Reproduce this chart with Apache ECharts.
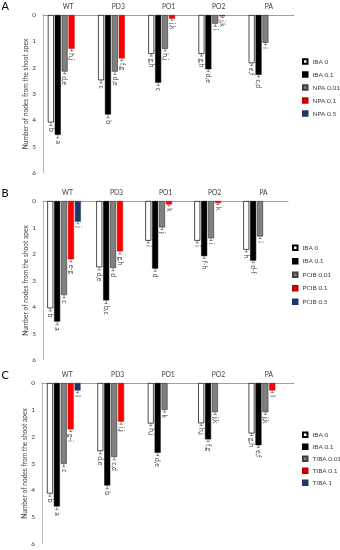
<!DOCTYPE html>
<html><head><meta charset="utf-8">
<script src="https://cdn.jsdelivr.net/npm/echarts@6/dist/echarts.min.js"></script>
<style>html,body{margin:0;padding:0;background:#fff}#c{width:340px;height:550px}</style>
</head><body><div id="c"></div>
<script>
// ---------- data ----------
const categories = ['WT', 'PD3', 'PO1', 'PO2', 'PA'];
const yTicks = [0, 1, 2, 3, 4, 5, 6];

// Panel A (NPA)
const namesA = ['IBA 0', 'IBA 0.1', 'NPA 0.01', 'NPA 0.1', 'NPA 0.5'];
const a_iba0 = [4.08, 2.48, 1.48, 1.48, 1.83];
const a_iba01 = [4.55, 3.78, 2.57, 2.06, 2.27];
const a_npa001 = [2.15, 2.15, 1.29, 0.33, 1.06];
const a_npa01 = [1.28, 1.65, 0.14, 0.05, null];
const a_npa05 = [null, null, null, null, null];
const a_iba0_err = [0.12, 0.1, 0.08, 0.08, 0.08];
const a_iba01_err = [0.12, 0.12, 0.1, 0.08, 0.08];
const a_npa001_err = [0.08, 0.1, 0.07, 0.1, 0.07];
const a_npa01_err = [0.08, 0.08, 0.06, 0.05, null];
const a_npa05_err = [null, null, null, null, null];
const a_iba0_lab = ['b', 'c', 'g,h', 'g,h', 'e,f'];
const a_iba01_lab = ['a', 'b', 'c', 'd,e', 'c,d'];
const a_npa001_lab = ['d,e', 'd,e', 'h,j', 'i', 'i'];
const a_npa01_lab = ['h,j', 'f,g', 'j,k', 'j,k', null];
const a_npa05_lab = [null, null, null, null, null];

// Panel B (PCIB)
const namesB = ['IBA 0', 'IBA 0.1', 'PCIB 0.01', 'PCIB 0.1', 'PCIB 0.5'];
const b_iba0 = [4.05, 2.5, 1.5, 1.5, 1.84];
const b_iba01 = [4.55, 3.75, 2.55, 2.08, 2.25];
const b_pcib001 = [3.55, 2.53, 1.0, 1.41, 1.34];
const b_pcib01 = [2.2, 1.9, 0.13, 0.08, null];
const b_pcib05 = [0.78, null, null, null, null];
const b_iba0_err = [0.1, 0.1, 0.08, 0.08, 0.08];
const b_iba01_err = [0.12, 0.12, 0.1, 0.08, 0.08];
const b_pcib001_err = [0.1, 0.1, 0.08, 0.08, 0.08];
const b_pcib01_err = [0.1, 0.1, 0.05, 0.05, null];
const b_pcib05_err = [0.08, null, null, null, null];
const b_iba0_lab = ['b', 'd,e', 'i', 'i', 'h'];
const b_iba01_lab = ['a', 'b,c', 'd', 'f-h', 'd-f'];
const b_pcib001_lab = ['c', 'd', 'j', 'i', 'i'];
const b_pcib01_lab = ['e-g', 'g,h', 'k', 'k', null];
const b_pcib05_lab = ['j', null, null, null, null];

// Panel C (TIBA)
const namesC = ['IBA 0', 'IBA 0.1', 'TIBA 0.01', 'TIBA 0.1', 'TIBA 1'];
const c_iba0 = [4.12, 2.54, 1.51, 1.5, 1.88];
const c_iba01 = [4.6, 3.82, 2.6, 2.1, 2.32];
const c_tiba001 = [3.02, 2.76, 1.0, 1.09, 1.09];
const c_tiba01 = [1.73, 1.44, null, null, 0.28];
const c_tiba1 = [0.28, null, null, null, null];
const c_iba0_err = [0.1, 0.1, 0.08, 0.08, 0.08];
const c_iba01_err = [0.12, 0.12, 0.1, 0.08, 0.08];
const c_tiba001_err = [0.1, 0.1, 0.08, 0.08, 0.08];
const c_tiba01_err = [0.08, 0.1, null, null, 0.08];
const c_tiba1_err = [0.08, null, null, null, null];
const c_iba0_lab = ['b', 'd,e', 'h,j', 'h,j', 'g,h'];
const c_iba01_lab = ['a', 'b', 'd,e', 'f,g', 'e,f'];
const c_tiba001_lab = ['c', 'c,d', 'k', 'j,k', 'j,k'];
const c_tiba01_lab = ['g-i', 'i,j', null, null, 'l'];
const c_tiba1_lab = ['l', null, null, null, null];

// ---------- style ----------
const FONT = 'Lato';
const TXT = '#404040';
const BAR_W = 6;
const BAR_GAP = 0.15;
const PITCH = BAR_W * (1 + BAR_GAP);
const styles = [
  {color: '#ffffff', borderColor: '#000000', borderWidth: 0.7},
  {color: '#000000', borderColor: '#000000', borderWidth: 0.5},
  {color: '#808080', borderColor: '#404040', borderWidth: 0.7},
  {color: '#ff0000', borderColor: '#c00000', borderWidth: 0.5},
  {color: '#1f3864', borderColor: '#1f3864', borderWidth: 0.5}
];

const panels = [
  {names: namesA, vals: [a_iba0, a_iba01, a_npa001, a_npa01, a_npa05],
   errs: [a_iba0_err, a_iba01_err, a_npa001_err, a_npa01_err, a_npa05_err],
   labs: [a_iba0_lab, a_iba01_lab, a_npa001_lab, a_npa01_lab, a_npa05_lab],
   grid: {left: 43, top: 15, width: 251, height: 158}, letter: 'A', ly: 6.5,
   legend: {left: 302, top: 58, itemGap: 6}},
  {names: namesB, vals: [b_iba0, b_iba01, b_pcib001, b_pcib01, b_pcib05],
   errs: [b_iba0_err, b_iba01_err, b_pcib001_err, b_pcib01_err, b_pcib05_err],
   labs: [b_iba0_lab, b_iba01_lab, b_pcib001_lab, b_pcib01_lab, b_pcib05_lab],
   grid: {left: 43, top: 201, width: 245, height: 159}, letter: 'B', ly: 193.3,
   legend: {left: 292, top: 244.3, itemGap: 6.5}},
  {names: namesC, vals: [c_iba0, c_iba01, c_tiba001, c_tiba01, c_tiba1],
   errs: [c_iba0_err, c_iba01_err, c_tiba001_err, c_tiba01_err, c_tiba1_err],
   labs: [c_iba0_lab, c_iba01_lab, c_tiba001_lab, c_tiba01_lab, c_tiba1_lab],
   grid: {left: 42, top: 383, width: 252, height: 161}, letter: 'C', ly: 375.3,
   legend: {left: 302, top: 431.3, itemGap: 5}}
];

const grids = [], xAxes = [], yAxes = [], series = [], legends = [], graphics = [];

panels.forEach((p, pi) => {
  grids.push(Object.assign({containLabel: false}, p.grid));
  xAxes.push({
    type: 'category', data: categories, gridIndex: pi, position: 'top',
    axisTick: {show: false},
    axisLine: {lineStyle: {color: '#868686', width: 0.8}},
    axisLabel: {fontSize: 6.7, color: TXT, fontFamily: FONT, margin: 5}
  });
  yAxes.push({
    type: 'value', gridIndex: pi, inverse: true,
    min: yTicks[0], max: yTicks[yTicks.length - 1], interval: 1,
    name: 'Number of nodes from the shoot apex', nameLocation: 'middle', nameGap: 14, nameRotate: 90,
    nameMoveOverlap: false,
    nameTextStyle: {fontSize: 6.6, color: TXT, fontFamily: FONT},
    axisLine: {show: true, lineStyle: {color: '#a6a6a6', width: 0.8}},
    axisTick: {show: false}, splitLine: {show: false},
    axisLabel: {fontSize: 6.5, color: TXT, fontFamily: FONT, margin: 7}
  });
  p.names.forEach((nm, k) => {
    series.push({
      type: 'bar', name: nm, xAxisIndex: pi, yAxisIndex: pi,
      data: p.vals[k], barWidth: BAR_W, barGap: (BAR_GAP * 100) + '%',
      itemStyle: styles[k], silent: true, z: 2
    });
  });
  // empty pad slot so clusters sit as in the reference
  series.push({type: 'bar', name: '_pad' + pi, xAxisIndex: pi, yAxisIndex: pi,
    data: categories.map(() => null), barWidth: BAR_W, barGap: (BAR_GAP * 100) + '%'});

  const eb = [], labList = [];
  p.vals.forEach((arr, k) => {
    arr.forEach((v, i) => {
      if (v == null) return;
      eb.push([i, v, p.errs[k][i] || 0, k]);
      labList.push(p.labs[k][i]);
    });
  });
  series.push({
    type: 'custom', xAxisIndex: pi, yAxisIndex: pi, z: 5, silent: true,
    data: eb,
    renderItem: function (params, api) {
      const ci = api.value(0), v = api.value(1), e = api.value(2), k = api.value(3);
      const p0 = api.coord([ci, v]);
      const p1 = api.coord([ci, v + e]);
      const x = p0[0] + (k - 2.5) * PITCH;
      const lab = labList[params.dataIndex];
      const children = [
        {type: 'line', shape: {x1: x, y1: p0[1], x2: x, y2: p1[1]}, style: {stroke: '#404040', lineWidth: 0.6}},
        {type: 'line', shape: {x1: x - 1.6, y1: p1[1], x2: x + 1.6, y2: p1[1]}, style: {stroke: '#404040', lineWidth: 0.6}}
      ];
      if (lab) {
        children.push({type: 'text', x: x, y: p1[1] + 2.5, rotation: -Math.PI / 2,
          style: {text: lab, x: 0, y: 0, align: 'left', verticalAlign: 'middle',
            fontSize: 6.8, fontFamily: FONT, fill: TXT}});
      }
      return {type: 'group', children: children};
    }
  });
  legends.push({
    data: p.names, orient: 'vertical', left: p.legend.left, top: p.legend.top, padding: 0,
    itemGap: p.legend.itemGap, itemWidth: 4.5, itemHeight: 4.5, icon: 'rect',
    textStyle: {fontSize: 6.5, color: TXT, fontFamily: FONT}, selectedMode: false
  });
  graphics.push({type: 'text', x: 1.5, y: p.ly,
    style: {text: p.letter, fontSize: 11, fontFamily: FONT, fill: '#000', verticalAlign: 'middle'}});
});

const chart = echarts.init(document.getElementById('c'), null, {renderer: 'canvas'});
chart.setOption({
  animation: false,
  backgroundColor: '#ffffff',
  textStyle: {fontFamily: FONT},
  grid: grids, xAxis: xAxes, yAxis: yAxes, series: series, legend: legends, graphic: graphics
});
</script></body></html>
